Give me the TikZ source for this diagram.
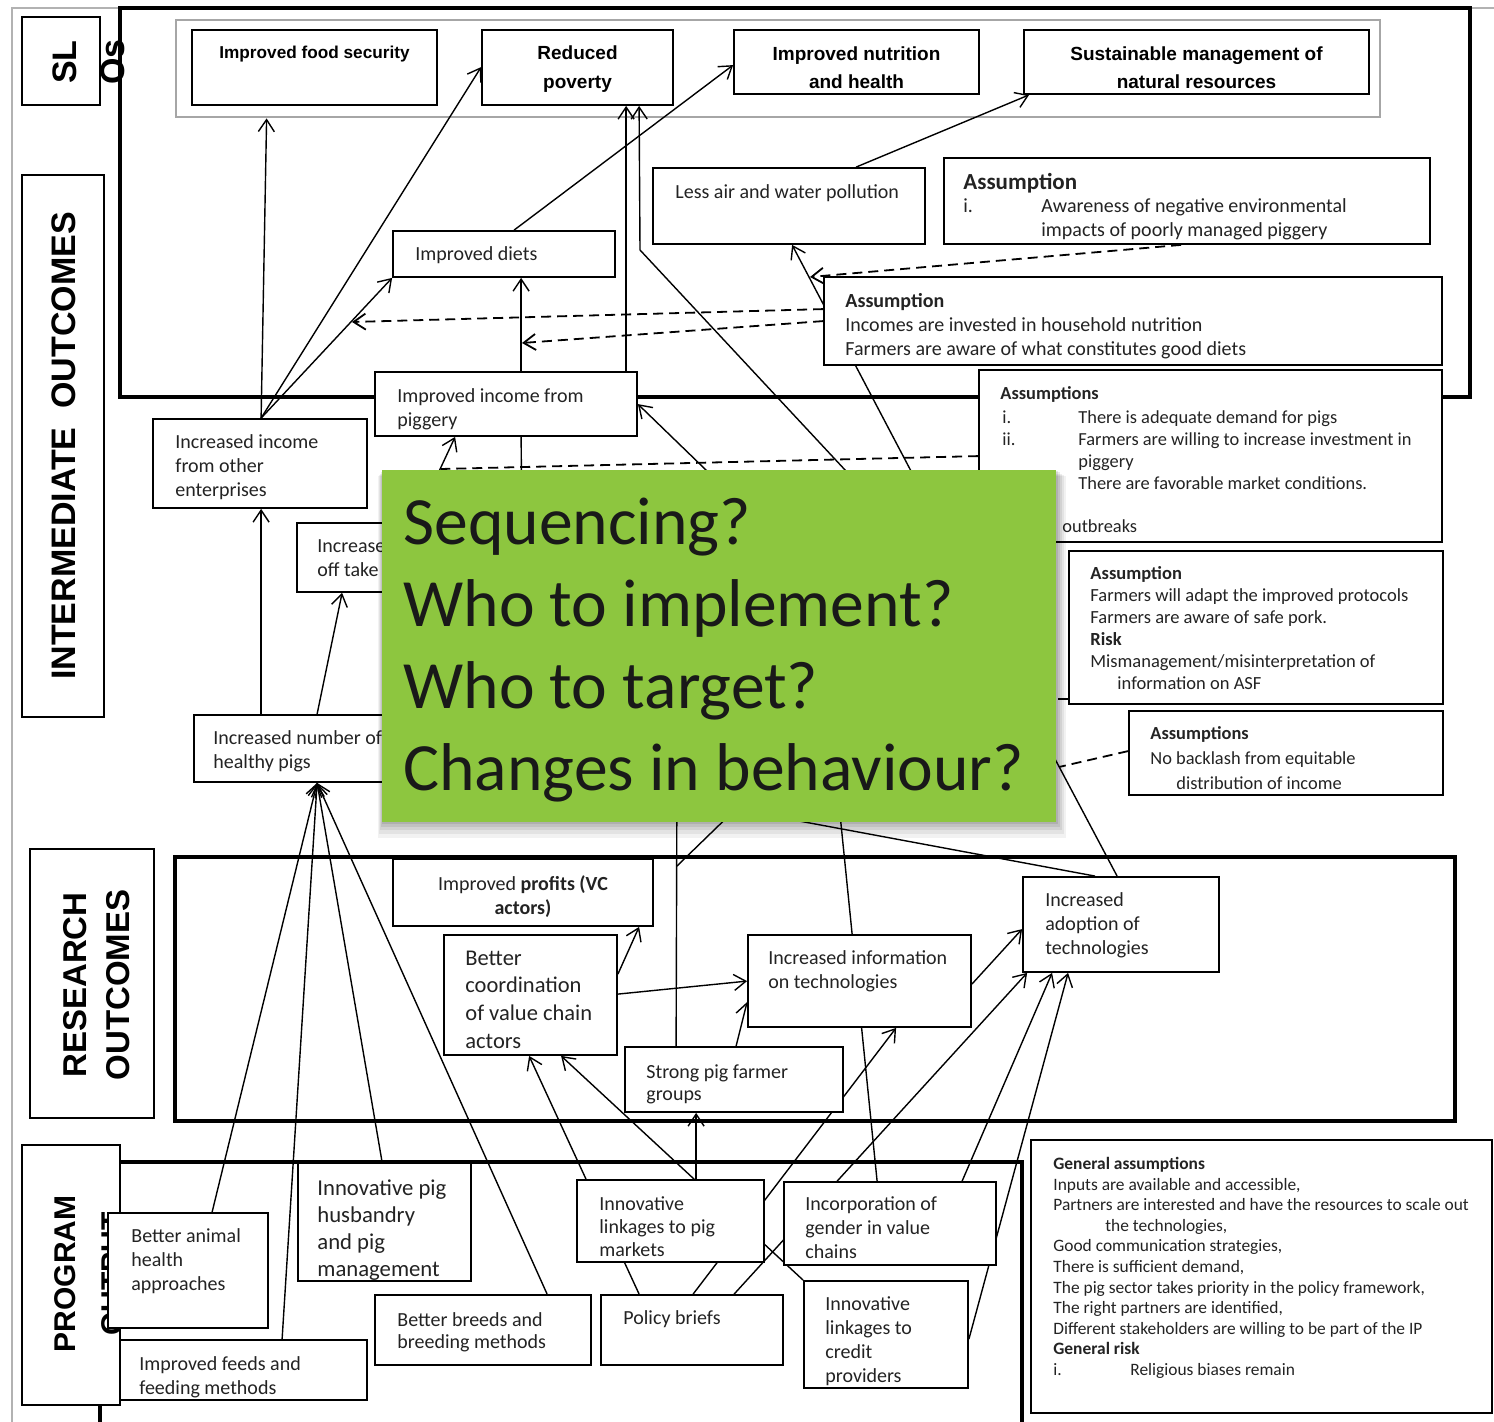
\documentclass[tikz,border=0pt]{standalone}
\usepackage{fontspec}
\setmainfont{Carlito}
\newfontfamily\hdfont{Liberation Sans}
\usetikzlibrary{arrows.meta,calc,fit}
\pgfdeclarelayer{back}
\pgfdeclarelayer{lines}
\pgfdeclarelayer{front}
\pgfsetlayers{back,lines,main,front}
\newcommand\fsz[2]{\fontsize{#1}{#2}\selectfont}
\definecolor{qgreen}{RGB}{141,198,63}
\definecolor{ink}{RGB}{35,35,35}
\begin{document}
\begin{tikzpicture}[x=0.5pt,y=-0.5pt,
  bx/.style={draw, line width=0.9pt, fill=white, inner sep=0pt},
  lb/.style={draw, line width=1pt, fill=white, inner sep=0pt},
  thickframe/.style={line width=1.7pt},
  tx/.style={inner sep=0pt, anchor=north west, align=left, text=ink, font=\fsz{10}{12}, yshift=-1.5pt},
  hd/.style={inner sep=0pt, anchor=north, align=center, text=black, font=\hdfont\bfseries\fsz{9.5}{14.25}, yshift=-1pt},
  vl/.style={inner sep=0pt, rotate=90, align=center, text=black},
  cn/.style={line width=0.7pt},
  arr/.style={cn, -{Straight Barb[length=6pt,width=8pt]}},
  dsh/.style={line width=0.9pt, dash pattern=on 5pt off 3pt},
  dsharr/.style={dsh, -{Straight Barb[length=6pt,width=8pt]}},
]
\useasboundingbox (0,0) rectangle (1494,1422);

% ---------- frames ----------
\begin{pgfonlayer}{back}
\fill[white] (0,0) rectangle (1494,1422);
\draw[gray!60, line width=1pt] (1494,8) -- (12,8) -- (12,1422);
\draw[thickframe] (120,8) rectangle (1470,397);
\draw[thickframe] (175,857) rectangle (1455,1121);
\draw[thickframe] (100,1422) -- (100,1162) -- (1022,1162) -- (1022,1422);
\node[draw=gray!70, line width=1.4pt, inner sep=0pt, fit={(176,20)(1380,117)}] (slo) {};
\end{pgfonlayer}

% ---------- level labels ----------
\node[lb, fit={(22,17)(100,105)}] (slbox) {};
\node[vl, font=\hdfont\bfseries\fsz{17}{24}] (slt) at (89,62) {SL\\Os};
\node[lb, fit={(22,175)(104,717)}] (intbox) {};
\node[vl, font=\hdfont\bfseries\fsz{17}{24}] (intt) at (64,446) {INTERMEDIATE~~OUTCOMES};
\node[lb, fit={(30,849)(154,1118)}] (resbox) {};
\node[vl, font=\hdfont\bfseries\fsz{16.5}{21.5}] (rest) at (96.5,985) {RESEARCH\\OUTCOMES};
\node[lb, fit={(22,1145)(120,1405)}] (progbox) {};
\node[vl, font=\hdfont\bfseries\fsz{15}{23.5}] (progt) at (88.5,1274) {PROGRAM\\OUTPUT};

% ---------- SLOs ----------
\node[bx, fit={(192,30)(437,105)}] (fs) {};
\node[hd, font=\hdfont\bfseries\fsz{8.6}{14.25}] (fs-t) at (314.5,44) {Improved food security};
\node[bx, fit={(482,30)(673,105)}] (rp) {};
\node[hd] (rp-t) at (577.5,43.5) {Reduced\\poverty};
\node[bx, fit={(734,30)(979,94)}] (nh) {};
\node[hd] (nh-t) at (856.5,44) {Improved nutrition\\and health};
\node[bx, fit={(1024,30)(1369,94)}] (sm) {};
\node[hd] (sm-t) at (1196.5,44) {Sustainable management of\\natural resources};

% ---------- intermediate outcomes ----------
\node[bx, fit={(653,168)(925,244)}] (la) {};
\node[tx] (la-t) at (675,181.6) {Less air and water pollution};
\node[bx, fit={(944,158)(1430,244)}] (ae) {};
\node[tx, font=\bfseries\fsz{11.5}{13}] (ae-h) at (963,170.2) {Assumption};
\node[tx] (ae-n) at (963,195.6) {i.};
\node[tx] (ae-t) at (1041,195.6) {Awareness of negative environmental\\impacts of poorly managed piggery};
\node[bx, fit={(393,231)(615,277)}] (di) {};
\node[tx] (di-t) at (415,243.6) {Improved diets};
\node[bx, fit={(824,277)(1442,365)}] (an) {};
\node[tx] (an-t) at (845,289.6) {\textbf{Assumption}\\Incomes are invested in household nutrition\\Farmers are aware of what constitutes good diets};
\node[bx, fit={(375,372)(637,436)}] (pg) {};
\node[tx] (pg-t) at (397,385.6) {Improved income from\\piggery};
\node[bx, fit={(153,419)(367,508)}] (io) {};
\node[tx] (io-t) at (175,431.6) {Increased income\\from other\\enterprises};
\node[bx, fit={(979,370)(1442,542)}] (am) {};
\node[tx, font=\fsz{9.2}{11}] (am-h) at (1000,383.4) {\textbf{Assumptions}};
\node[tx, font=\fsz{9.2}{11}] (am-n) at (1002,407.4) {i.\\ii.};
\node[tx, font=\fsz{9.2}{11}] (am-t) at (1078,407.4) {There is adequate demand for pigs\\Farmers are willing to increase investment in\\piggery\\There are favorable market conditions.};
\node[tx, font=\fsz{9.2}{11}] (am-o) at (1062,516.4) {outbreaks};
\node[bx, fit={(297,523)(430,592)}] (ot) {};
\node[tx] (ot-t) at (317,535.6) {Increased\\off take};
\node[bx, fit={(194,715)(430,782)}] (hp) {};
\node[tx] (hp-t) at (213,727.6) {Increased number of\\healthy pigs};
\node[bx, fit={(1069,551)(1443,704)}] (af) {};
\node[tx, font=\fsz{9.25}{11}] (af-t) at (1090,563.3) {\textbf{Assumption}\\Farmers will adapt the improved protocols\\Farmers are aware of safe pork.\\\textbf{Risk}\\Mismanagement/misinterpretation of\\\hspace*{13.5pt}information on ASF};
\node[bx, fit={(1129,711)(1443,795)}] (ag) {};
\node[tx, font=\fsz{9.2}{12.5}] (ag-t) at (1150,723.4) {\textbf{Assumptions}\\No backlash from equitable\\\hspace*{13pt}distribution of income};

% ---------- research outcomes ----------
\node[bx, fit={(393,859)(653,926)}] (ip) {};
\node[tx, anchor=north, align=center] (ip-t) at (523,872.6) {Improved \textbf{profits (VC}\\\textbf{actors)}};
\node[bx, fit={(444,935)(617,1055)}] (bc) {};
\node[tx, font=\fsz{11.25}{13.85}] (bc-t) at (465,947.4) {Better\\coordination\\of value chain\\actors};
\node[bx, fit={(748,935)(971,1027)}] (it) {};
\node[tx] (it-t) at (768,947.6) {Increased information\\on technologies};
\node[bx, fit={(1023,877)(1219,972)}] (ad) {};
\node[tx] (ad-t) at (1045,889.6) {Increased\\adoption of\\technologies};
\node[bx, fit={(625,1047)(843,1112)}] (sg) {};
\node[tx, font=\fsz{10}{11}] (sg-t) at (646,1061.6) {Strong pig farmer\\groups};

% ---------- program outputs ----------
\node[bx, fit={(108,1213)(268,1328)}] (ba) {};
\node[tx] (ba-t) at (131,1225.6) {Better animal\\health\\approaches};
\node[bx, fit={(298,1163)(471,1281)}] (ph) {};
\node[tx, font=\fsz{11.35}{13.5}] (ph-t) at (317,1176.3) {Innovative pig\\husbandry\\and pig\\management};
\node[bx, fit={(120,1340)(367,1400)}] (ff) {};
\node[tx] (ff-t) at (139,1353.6) {Improved feeds and\\feeding methods};
\node[bx, fit={(375,1295)(591,1365)}] (bb) {};
\node[tx, font=\fsz{10}{11}] (bb-t) at (397,1309.6) {Better breeds and\\breeding methods};
\node[bx, fit={(577,1180)(764,1262)}] (lm) {};
\node[tx, font=\fsz{10}{11.5}] (lm-t) at (599,1193.6) {Innovative\\linkages to pig\\markets};
\node[bx, fit={(601,1295)(783,1365)}] (pb) {};
\node[tx] (pb-t) at (623,1307.6) {Policy briefs};
\node[bx, fit={(784,1182)(996,1265)}] (gv) {};
\node[tx] (gv-t) at (805,1193.6) {Incorporation of\\gender in value\\chains};
\node[bx, fit={(804,1281)(968,1388)}] (cp) {};
\node[tx] (cp-t) at (825,1293.6) {Innovative\\linkages to\\credit\\providers};
\node[bx, fit={(1031,1140)(1492,1413)}] (ga) {};
\node[tx, font=\fsz{8.7}{10.3}] (ga-t) at (1053,1153.8) {\textbf{General assumptions}\\Inputs are available and accessible,\\Partners are interested and have the resources to scale out\\\hspace*{26pt}the technologies,\\Good communication strategies,\\There is sufficient demand,\\The pig sector takes priority in the policy framework,\\The right partners are identified,\\Different stakeholders are willing to be part of the IP\\\textbf{General risk}\\\makebox[38.5pt][l]{i.}Religious biases remain};

% ---------- free ends of connectors ----------
\coordinate (h1) at (901,530);
\coordinate (bendrp) at (640,250);
\coordinate (h2) at (942,530);
\coordinate (envhit) at (810,277);
\coordinate (dh1) at (352,322);
\coordinate (dh2) at (522,343);
\coordinate (h3) at (768,530);
\coordinate (h4) at (421,510);
\coordinate (h6) at (522,540);
\coordinate (dh3) at (441,469);
\coordinate (h7) at (833,745);
\coordinate (h8) at (677,760);
\coordinate (bend1) at (677,866);
\coordinate (h9) at (745,800);
\coordinate (h5) at (740,810);
\coordinate (h10) at (1020,693);
\coordinate (dh4) at (1059,767);
\coordinate (h11) at (1000,700);

% ---------- connectors ----------
\begin{pgfonlayer}{lines}
\draw[arr] ($(io.north west)+(109,0)$) -- ($(slo.south west)+(92,0)$);
\draw[arr] ($(io.north west)+(109,0)$) -- ($(rp.north west)+(0,38)$);
\draw[arr] ($(io.north west)+(109,0)$) -- (di.south west);
\draw[arr] ($(pg.north west)+(147,0)$) -- ($(di.south west)+(129,0)$);
\draw[arr] ($(pg.north west)+(252,0)$) -- ($(rp.south west)+(145,0)$);
\draw[arr] (h1) -- (bendrp) -- ($(rp.south west)+(158,0)$);
\draw[arr] ($(di.north west)+(122,0)$) -- ($(nh.north west)+(0,36)$);
\draw[arr] ($(la.north west)+(204,0)$) -- ($(sm.south west)+(6,0)$);
\draw[arr] (h2) -- ($(la.south west)+(140,0)$);
\draw[dsharr] ($(ae.south west)+(238,0)$) -- (envhit);
\draw[dsharr] ($(an.north west)+(0,33)$) -- (dh1);
\draw[dsharr] ($(an.north west)+(0,45)$) -- (dh2);
\draw[arr] (h3) -- ($(pg.north east)+(0,33)$);
\draw[arr] (h4) -- ($(pg.south west)+(81,0)$);
\draw[cn] ($(pg.south west)+(147,0)$) -- (h6);
\draw[dsh] ($(am.north west)+(0,87)$) -- (dh3);
\draw[arr] ($(hp.north west)+(68,0)$) -- ($(io.south west)+(109,0)$);
\draw[arr] ($(hp.north west)+(124,0)$) -- ($(ot.south west)+(46,0)$);
% outputs feeding healthy pigs
\foreach \src/\dx in {ba/105, ff/163, ph/85, bb/173}
  \draw[arr] ($(\src.north west)+(\dx,0)$) -- ($(hp.south west)+(124,0)$);
% outputs feeding research outcomes
\draw[arr] ($(pb.north west)+(39,0)$) -- ($(bc.south west)+(86,0)$);
\draw[arr] (cp.north west) -- ($(bc.south west)+(118,0)$);
\draw[arr] ($(lm.north west)+(120,0)$) -- ($(sg.south west)+(72,0)$);
\draw[arr] ($(pb.north west)+(93,0)$) -- ($(it.south west)+(149,0)$);
\draw[arr] ($(pb.north west)+(134,0)$) -- ($(ad.south west)+(5,0)$);
\draw[arr] ($(gv.north west)+(179,0)$) -- ($(ad.south west)+(30,0)$);
\draw[arr] ($(cp.north east)+(0,59)$) -- ($(ad.south west)+(46,0)$);
\draw[cn] ($(gv.north west)+(94,0)$) -- (h7);
% within research outcomes
\draw[arr] ($(bc.north east)+(0,40)$) -- ($(ip.south west)+(247,0)$);
\draw[arr] ($(bc.north east)+(0,60)$) -- ($(it.north west)+(0,47)$);
\draw[arr] ($(sg.north west)+(112,0)$) -- ($(it.north west)+(0,68)$);
\draw[arr] ($(it.north east)+(0,50)$) -- ($(ad.north west)+(0,53)$);
% research outcomes towards intermediate outcomes
\draw[cn] ($(sg.north west)+(52,0)$) -- (h8);
\draw[cn] (bend1) -- (h9);
\draw[cn] ($(ad.north west)+(73,0)$) -- (h5);
\draw[cn] ($(ad.north west)+(95,0)$) -- (h10);
\draw[dsh] ($(ag.north west)+(0,41)$) -- (dh4);
\draw[dsh] ($(af.south west)+(0,-6)$) -- (h11);
\end{pgfonlayer}

% ---------- question panel ----------
\begin{pgfonlayer}{front}
\fill[black, opacity=0.05] (378,476) rectangle (1066,838);
\fill[black, opacity=0.06] (379,475) rectangle (1064,834);
\fill[black, opacity=0.07] (380,474) rectangle (1062,830);
\fill[black, opacity=0.08] (381,472) rectangle (1060,827);
\fill[black, opacity=0.09] (382,471) rectangle (1058,824);
\node[fill=qgreen, inner sep=0pt, fit={(382,470)(1056,822)}] (qbox) {};
\node[tx, text=black!90, font=\fsz{33.8}{41}] (q-t) at (403,494.2) {Sequencing?\\Who to implement?\\Who to target?\\Changes in behaviour?};
\end{pgfonlayer}
\end{tikzpicture}
\end{document}
